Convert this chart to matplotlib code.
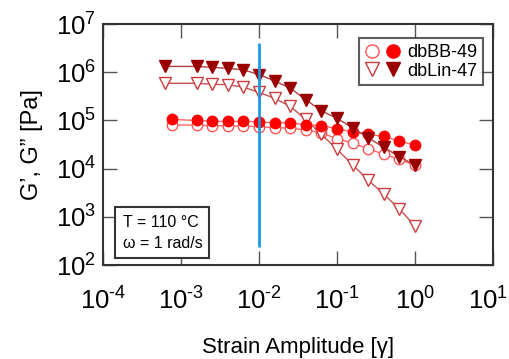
import numpy as np
from matplotlib import pyplot as plt, ticker, transforms
from matplotlib.legend_handler import HandlerTuple

plt.rcParams['font.family'] = ['Liberation Sans', 'DejaVu Sans']
plt.rcParams['mathtext.fontset'] = 'custom'
plt.rcParams['mathtext.rm'] = 'Liberation Sans'
plt.rcParams['mathtext.it'] = 'Liberation Sans:italic'

# strain amplitude (log10)
bb_logx = [-3.12, -2.8, -2.6, -2.4, -2.2, -2.0, -1.8, -1.6, -1.4, -1.2, -1.0, -0.8, -0.6, -0.4, -0.2, 0.0]
lin_logx = [-3.2, -2.8, -2.6, -2.4, -2.2, -2.0, -1.8, -1.6, -1.4, -1.2, -1.0, -0.8, -0.6, -0.4, -0.2, 0.0]

# moduli (log10 Pa)
bb_g1 = [5.02, 5.00, 4.98, 4.98, 4.98, 4.97, 4.95, 4.95, 4.91, 4.89, 4.83, 4.76, 4.71, 4.67, 4.57, 4.49]
bb_g2 = [4.91, 4.90, 4.89, 4.89, 4.88, 4.87, 4.85, 4.84, 4.80, 4.74, 4.62, 4.53, 4.41, 4.30, 4.19, 4.07]
lin_g1 = [6.12, 6.12, 6.10, 6.08, 6.05, 5.95, 5.82, 5.67, 5.43, 5.20, 5.04, 4.85, 4.64, 4.44, 4.25, 4.07]
lin_g2 = [5.77, 5.77, 5.75, 5.74, 5.69, 5.58, 5.46, 5.29, 5.02, 4.71, 4.40, 4.08, 3.76, 3.47, 3.16, 2.81]

x_decades = [-4, -3, -2, -1, 0, 1]
y_decades = [2, 3, 4, 5, 6, 7]

marker_x = 1e-2
marker_span = (10**2.37, 10**6.6)

fig = plt.figure(figsize=(5.09, 3.59), dpi=100)
ax = fig.add_axes([0.2024, 0.2618, 0.7662, 0.6713])

def p(v):
    return 10.0 ** np.array(v, dtype=float)

ax.plot(p(bb_logx), p(bb_g2), '-', color='#ff6666', lw=1, marker='o', ms=7.5,
        mfc='white', mec='#ff5555', mew=1, zorder=3)
ax.plot(p(bb_logx), p(bb_g1), '-', color='#ff6666', lw=1, marker='o', ms=7.5,
        mfc='#ff0000', mec='#ff0000', zorder=4)
ax.plot(p(lin_logx), p(lin_g2), '-', color='#c85050', lw=1, marker='v', ms=8.5,
        mfc='white', mec='#cc3c3c', mew=1, zorder=3)
ax.plot(p(lin_logx), p(lin_g1), '-', color='#b04040', lw=1, marker='v', ms=8.5,
        mfc='#9b0000', mec='#9b0000', zorder=5)

ax.vlines(marker_x, *marker_span, color='#1e9be0', lw=2, zorder=6)


def dec_fmt(v, pos):
    k = int(round(np.log10(v)))
    return r'$10^{\text{%d}}$' % k


ax.set_xscale('log')
ax.set_yscale('log')
ax.set_xlim(1e-4, 1e1)
ax.set_ylim(1e2, 1e7)
ax.xaxis.set_major_locator(ticker.FixedLocator(p(x_decades)))
ax.yaxis.set_major_locator(ticker.FixedLocator(p(y_decades)))
ax.xaxis.set_major_formatter(ticker.FuncFormatter(dec_fmt))
ax.yaxis.set_major_formatter(ticker.FuncFormatter(dec_fmt))
ax.minorticks_off()
ax.tick_params(which='both', direction='in', length=10, width=1, color='#555555',
               top=True, right=True, labelsize=18.5)
ax.tick_params(axis='x', pad=16)
ax.tick_params(axis='y', pad=5)
for s in ax.spines.values():
    s.set_linewidth(1.5)
    s.set_color('#333333')

# last x label sits a little left of its tick, as in the original
fig.canvas.draw()
last = ax.get_xticklabels()[-1]
last.set_transform(last.get_transform() + transforms.ScaledTranslation(-5 / 100, 0, fig.dpi_scale_trans))

ax.set_xlabel('Strain Amplitude [\u03b3]', fontsize=16, labelpad=16)
ax.set_ylabel('G\u2019, G\u201d [Pa]', fontsize=17, labelpad=9)

h1 = ax.plot([], [], 'o', ms=9.5, mfc='white', mec='#ff5555', mew=1)[0]
h2 = ax.plot([], [], 'o', ms=9.5, mfc='#ff0000', mec='#ff0000')[0]
h3 = ax.plot([], [], 'v', ms=10, mfc='white', mec='#cc3c3c', mew=1)[0]
h4 = ax.plot([], [], 'v', ms=10, mfc='#9b0000', mec='#9b0000')[0]
leg = ax.legend([(h1, h2), (h3, h4)], ['dbBB-49', 'dbLin-47'],
                handler_map={tuple: HandlerTuple(ndivide=None, pad=0.4)},
                loc='upper right', bbox_to_anchor=(0.975, 0.94), fontsize=13,
                frameon=True, fancybox=False, edgecolor='#333333',
                handlelength=2.0, handletextpad=0.4, borderpad=0.3,
                labelspacing=0.1, borderaxespad=0)
leg.get_frame().set_linewidth(1.5)

ax.text(0.05, 0.06, 'T = 110 \u00b0C\n\u03c9 = 1 rad/s', transform=ax.transAxes,
        fontsize=11.5, va='bottom', ha='left', linespacing=1.5,
        bbox=dict(boxstyle='square,pad=0.45', fc='white', ec='#333333', lw=1.5))

fig.savefig('out.png', dpi=100)
